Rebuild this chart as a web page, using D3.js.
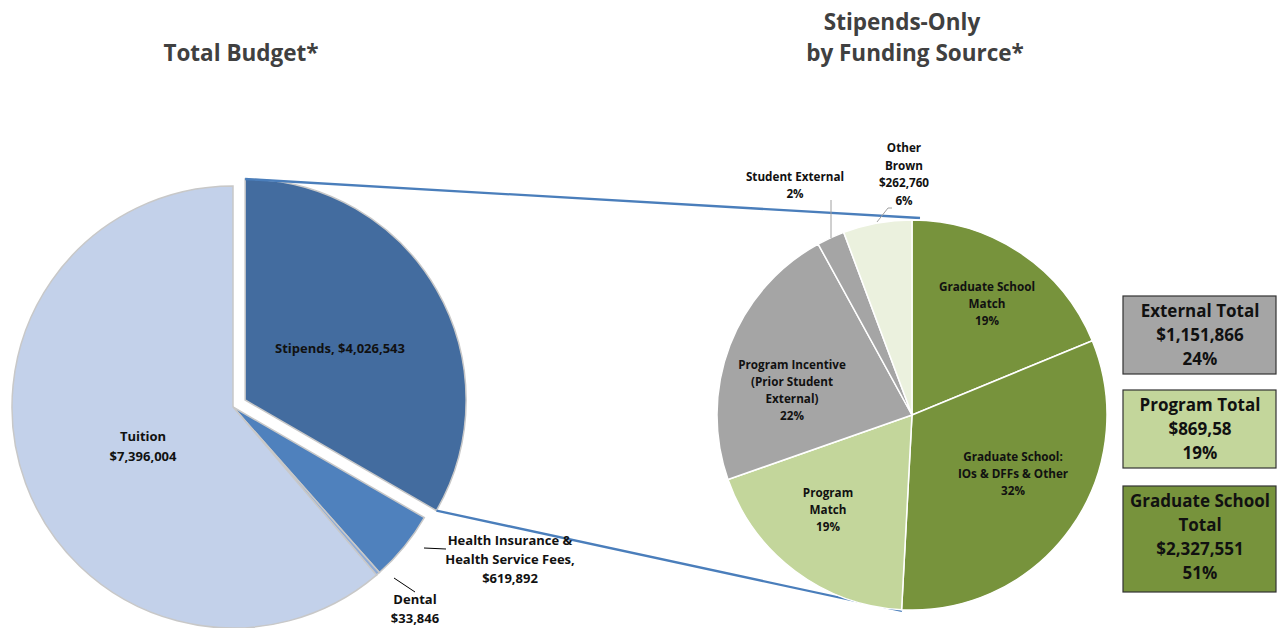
<!DOCTYPE html>
<html>
<head>
<meta charset="utf-8">
<script src="https://cdn.jsdelivr.net/npm/d3@7"></script>
<style>
  body { margin: 0; background: #fff; }
  text { font-family: "Open Sans", sans-serif; font-weight: bold; }
</style>
</head>
<body>
<div id="chartHolder"></div>
<script>
// left pie: total budget
const budgetNames = ["Stipends", "Health Insurance & Health Service Fees", "Dental", "Tuition"];
const budgetValues = [4026543, 619892, 33846, 7396004];
const budgetColors = ["#436c9f", "#4f81bd", "#8eabd6", "#c3d1ea"];

// right pie: stipends by funding source (percent of stipends)
const sourceNames = ["Graduate School Match", "Graduate School: IOs & DFFs & Other", "Program Match",
  "Program Incentive (Prior Student External)", "Student External", "Other Brown"];
const sourceValues = [18.8, 32.1, 18.8, 22.4, 2.3, 5.7];
const sourceColors = ["#77933c", "#77933c", "#c3d69b", "#a5a5a5", "#a5a5a5", "#ebf1de"];

// total boxes
const totalLines = [
  ["External Total", "$1,151,866", "24%"],
  ["Program Total", "$869,58", "19%"],
  ["Graduate School", "Total", "$2,327,551", "51%"]
];
const totalColors = ["#a5a5a5", "#c3d69b", "#77933c"];

const width = 1279, height = 628;
const svg = d3.select("#chartHolder").append("svg")
  .attr("width", width).attr("height", height);

// titles
svg.append("text").attr("x", 241).attr("y", 61).attr("text-anchor", "middle")
  .style("font-size", "22.5px").style("fill", "#404040").text("Total Budget*");
svg.append("text").attr("x", 902).attr("y", 30).attr("text-anchor", "middle")
  .style("font-size", "22.5px").style("fill", "#404040").text("Stipends-Only");
svg.append("text").attr("x", 915).attr("y", 61).attr("text-anchor", "middle")
  .style("font-size", "22.5px").style("fill", "#404040").text("by Funding Source*");

// ---- left pie
const lc = [233, 407], lr = 221;
const pie = d3.pie().sort(null).value(d => d);
const leftArcs = pie(budgetValues);
const leftArc = d3.arc().innerRadius(0).outerRadius(lr);
const explode = 14;

const leftG = svg.append("g").attr("transform", `translate(${lc[0]},${lc[1]})`);
leftG.selectAll("path").data(leftArcs).enter().append("path")
  .attr("transform", (d, i) => {
    if (i !== 0) return null;
    const m = (d.startAngle + d.endAngle) / 2;
    return `translate(${Math.sin(m) * explode},${-Math.cos(m) * explode})`;
  })
  .attr("d", leftArc)
  .style("fill", (d, i) => budgetColors[i])
  .style("stroke", "#c8c8c8")
  .style("stroke-width", 1.5);

// connector lines from stipends slice to right pie
const st = leftArcs[0];
const sm = (st.startAngle + st.endAngle) / 2;
const ox = lc[0] + Math.sin(sm) * explode, oy = lc[1] - Math.cos(sm) * explode;
const p1 = [ox + Math.sin(st.startAngle) * lr, oy - Math.cos(st.startAngle) * lr];
const p2 = [ox + Math.sin(st.endAngle) * lr, oy - Math.cos(st.endAngle) * lr];
svg.append("line").attr("x1", p1[0]).attr("y1", p1[1]).attr("x2", 920).attr("y2", 218)
  .style("stroke", "#4a7ebb").style("stroke-width", 2.3);
svg.append("line").attr("x1", p2[0]).attr("y1", p2[1]).attr("x2", 902).attr("y2", 611)
  .style("stroke", "#4a7ebb").style("stroke-width", 2.3);

function label(x, y, lines, size, lh) {
  const t = svg.append("text").attr("text-anchor", "middle")
    .style("font-size", size + "px").style("fill", "#111");
  lines.forEach((l, i) => t.append("tspan").attr("x", x).attr("y", y + i * lh).text(l));
}
const fmt = d3.format(",");

label(340, 353, ["Stipends, $" + fmt(budgetValues[0])], 13, 18);
label(143, 441, ["Tuition", "$" + fmt(budgetValues[3])], 13, 20);
label(510, 545, ["Health Insurance &", "Health Service Fees,", "$" + fmt(budgetValues[1])], 13, 19);
label(415, 604, ["Dental", "$" + fmt(budgetValues[2])], 13, 19);
svg.append("line").attr("x1", 424).attr("y1", 548).attr("x2", 446).attr("y2", 549)
  .style("stroke", "#000").style("stroke-width", 1);
svg.append("line").attr("x1", 394).attr("y1", 578).attr("x2", 415).attr("y2", 592)
  .style("stroke", "#000").style("stroke-width", 1);

// ---- right pie
const rc = [912, 415], rr = 195;
const rightArcs = pie(sourceValues);
const rightArc = d3.arc().innerRadius(0).outerRadius(rr);
const rightG = svg.append("g").attr("transform", `translate(${rc[0]},${rc[1]})`);
rightG.selectAll("path").data(rightArcs).enter().append("path")
  .attr("d", rightArc)
  .style("fill", (d, i) => sourceColors[i])
  .style("stroke", "#fff")
  .style("stroke-width", 1.5);

const pct = i => Math.round(sourceValues[i]) + "%";
label(987, 291, ["Graduate School", "Match", pct(0)], 11.7, 17);
label(1013, 461, ["Graduate School:", "IOs & DFFs & Other", pct(1)], 11.7, 17);
label(828, 497, ["Program", "Match", pct(2)], 11.7, 17);
label(792, 369, ["Program Incentive", "(Prior Student", "External)", pct(3)], 11.7, 17);
label(795, 181, ["Student External", pct(4)], 11.7, 17);
label(904, 152, ["Other", "Brown", "$262,760", pct(5)], 11.7, 17.5);
svg.append("line").attr("x1", 831).attr("y1", 200).attr("x2", 831).attr("y2", 238)
  .style("stroke", "#a0a0a0").style("stroke-width", 1);
svg.append("polyline").attr("points", "877,222 888,208 892,208")
  .style("fill", "none").style("stroke", "#a0a0a0").style("stroke-width", 1);

// ---- total boxes
const boxY = [296, 390, 486], boxH = [78, 78, 106];
totalLines.forEach((lines, i) => {
  svg.append("rect").attr("x", 1123).attr("y", boxY[i]).attr("width", 153).attr("height", boxH[i])
    .style("fill", totalColors[i]).style("stroke", "#333").style("stroke-width", 1.2);
  const t = svg.append("text").attr("text-anchor", "middle")
    .style("font-size", "17px").style("fill", "#111");
  lines.forEach((l, j) => t.append("tspan").attr("x", 1200).attr("y", boxY[i] + 21 + j * 24).text(l));
});
</script>
</body>
</html>
